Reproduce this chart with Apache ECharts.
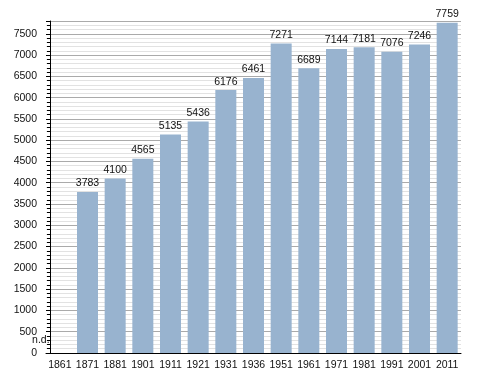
<!DOCTYPE html>
<html>
<head>
<meta charset="utf-8">
<script src="https://cdn.jsdelivr.net/npm/echarts@6/dist/echarts.min.js"></script>
<style>html,body{margin:0;padding:0;background:#fff;}#c{width:488px;height:373px;}</style>
</head>
<body>
<div id="c"></div>
<script>
var years = ['1861','1871','1881','1901','1911','1921','1931','1936','1951','1961','1971','1981','1991','2001','2011'];
var population = [0,3783,4100,4565,5135,5436,6176,6461,7271,6689,7144,7181,7076,7246,7759];
var missingLabel = 'n.d.';
var yTicks = [0,500,1000,1500,2000,2500,3000,3500,4000,4500,5000,5500,6000,6500,7000,7500];

var chart = echarts.init(document.getElementById('c'), null, {renderer:'canvas'});
var font = 'Liberation Sans, Arial, sans-serif';
var data = population.map(function(v, i){
  if (i === 0) {
    return {value: v, label: {formatter: missingLabel, offset: [-19, -4]}};
  }
  return v;
});
chart.setOption({
  animation: false,
  backgroundColor: '#ffffff',
  grid: {left: 46, right: 27, top: 21, bottom: 20},
  xAxis: {
    type: 'category',
    data: years,
    axisLine: {lineStyle: {color: '#000', width: 1}},
    axisTick: {show: false},
    axisLabel: {interval: 0, color: '#111', fontFamily: font, fontSize: 10.5, margin: 7}
  },
  yAxis: {
    type: 'value',
    min: 0, max: 7800, interval: 500,
    offset: -4,
    axisLine: {show: true, lineStyle: {color: '#000', width: 1}},
    axisTick: {show: true, length: 4, lineStyle: {color: '#000'}},
    minorTick: {show: true, splitNumber: 5, length: 3, lineStyle: {color: '#000'}},
    splitLine: {show: true, lineStyle: {color: '#aaaaaa', width: 1}},
    minorSplitLine: {show: true, lineStyle: {color: '#e2e2e2', width: 1}},
    axisLabel: {
      color: '#111', fontFamily: font, fontSize: 10.5, margin: 13, showMaxLabel: false,
      formatter: function(v){ return yTicks.indexOf(v) >= 0 ? String(v) : ''; }
    }
  },
  series: [{
    type: 'bar',
    data: data,
    barWidth: 21,
    itemStyle: {color: '#98b3cf'},
    label: {show: true, position: 'top', distance: 3, color: '#111', fontFamily: font, fontSize: 10.5}
  }]
});
</script>
</body>
</html>
